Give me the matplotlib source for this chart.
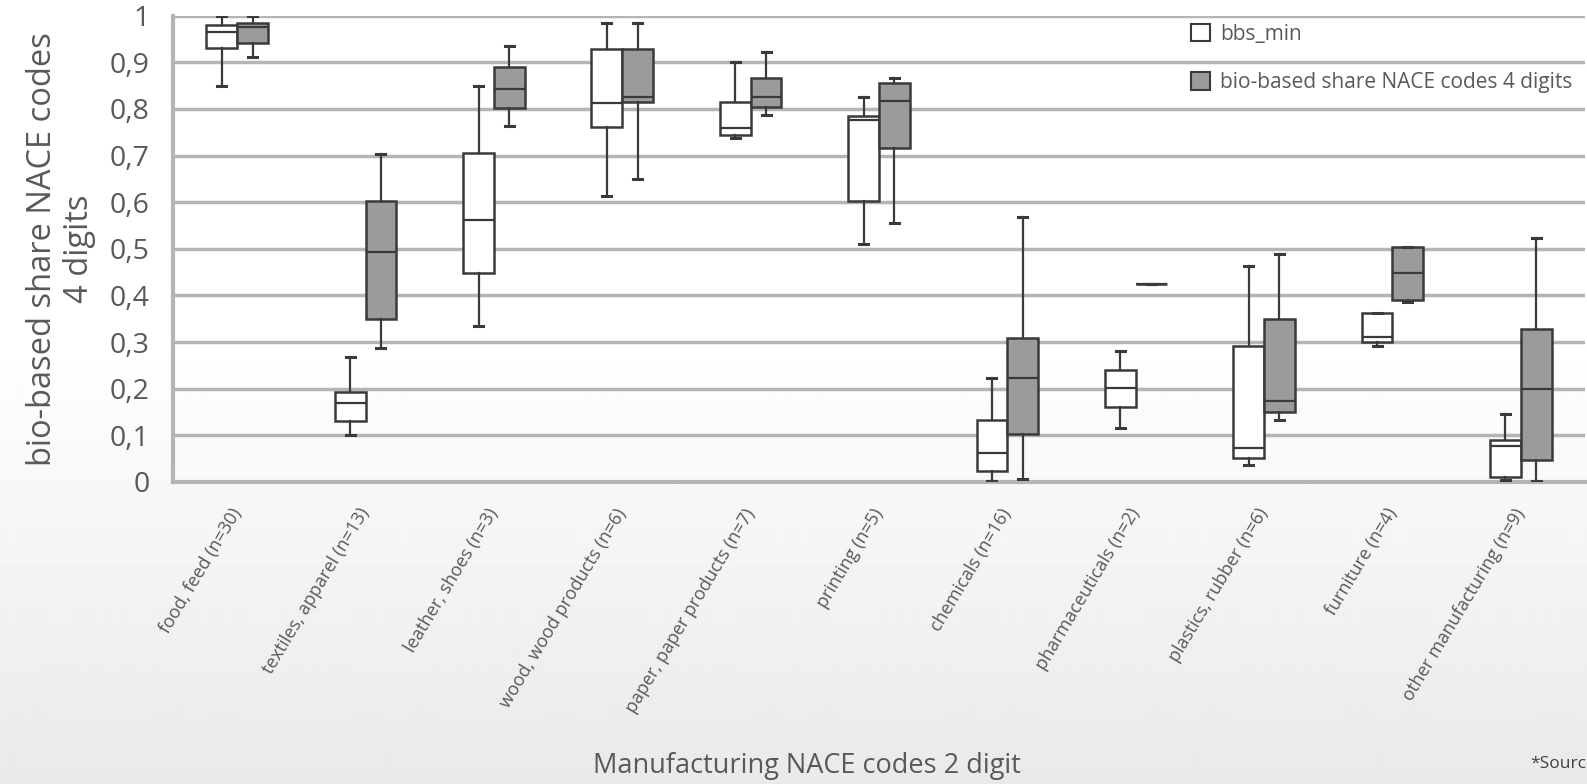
import numpy as np
import matplotlib
matplotlib.use("Agg")
from matplotlib import pyplot as plt
from matplotlib.patches import Patch

plt.rcParams["font.family"] = ["Open Sans", "DejaVu Sans"]

# Categories (NACE 2 digit) and box statistics
categories = [
    "food, feed (n=30)",
    "textiles, apparel (n=13)",
    "leather, shoes (n=3)",
    "wood, wood products (n=6)",
    "paper, paper products (n=7)",
    "printing (n=5)",
    "chemicals (n=16)",
    "pharmaceuticals (n=2)",
    "plastics, rubber (n=6)",
    "furniture (n=4)",
    "other manufacturing (n=9)",
]

# bbs_min: whisker low, q1, median, q3, whisker high
bbs_lo = [0.850, 0.100, 0.335, 0.613, 0.737, 0.510, 0.002, 0.116, 0.036, 0.292, 0.004]
bbs_q1 = [0.930, 0.131, 0.448, 0.762, 0.744, 0.603, 0.024, 0.160, 0.051, 0.300, 0.011]
bbs_med = [0.965, 0.170, 0.562, 0.812, 0.759, 0.776, 0.062, 0.201, 0.072, 0.310, 0.078]
bbs_q3 = [0.980, 0.194, 0.705, 0.929, 0.814, 0.785, 0.134, 0.240, 0.292, 0.362, 0.089]
bbs_hi = [1.000, 0.269, 0.850, 0.985, 0.901, 0.826, 0.224, 0.282, 0.464, 0.362, 0.145]

# bio-based share NACE codes 4 digits
nace_lo = [0.911, 0.287, 0.763, 0.650, 0.786, 0.556, 0.006, 0.425, 0.133, 0.385, 0.002]
nace_q1 = [0.941, 0.349, 0.803, 0.815, 0.805, 0.717, 0.104, 0.425, 0.151, 0.390, 0.047]
nace_med = [0.975, 0.494, 0.843, 0.825, 0.826, 0.816, 0.224, 0.425, 0.174, 0.448, 0.199]
nace_q3 = [0.985, 0.603, 0.889, 0.929, 0.866, 0.855, 0.309, 0.425, 0.350, 0.505, 0.328]
nace_hi = [1.000, 0.703, 0.934, 0.985, 0.922, 0.866, 0.568, 0.425, 0.488, 0.505, 0.523]

y_ticks = [0, 0.1, 0.2, 0.3, 0.4, 0.5, 0.6, 0.7, 0.8, 0.9, 1]
y_tick_labels = ["0", "0,1", "0,2", "0,3", "0,4", "0,5", "0,6", "0,7", "0,8", "0,9", "1"]


def make_stats(lo, q1, med, q3, hi):
    return [
        {"whislo": a, "q1": b, "med": c, "q3": d, "whishi": e, "fliers": []}
        for a, b, c, d, e in zip(lo, q1, med, q3, hi)
    ]


W, H = 1587, 784
fig = plt.figure(figsize=(W / 100, H / 100), dpi=100)

# Background gradient (white at top, light grey at the bottom)
bg = fig.add_axes([0, 0, 1, 1], zorder=-10)
rows = np.arange(H)
shade = np.where(rows < 340, 1.0, 1.0 - 0.085 * (rows - 340) / (H - 340))
bg.imshow(shade[:, None] * np.ones((1, 8)), cmap="gray", vmin=0, vmax=1,
          aspect="auto", extent=[0, 1, 0, 1])
bg.set_axis_off()

left, right = 173, 1585
bottom, top = 482, 15.7
ax = fig.add_axes([left / W, (H - bottom) / H, (right - left) / W, (bottom - top) / H])
ax.set_facecolor("none")

edge = "#3a3a3a"
grey_fill = "#9b9b9b"
x = np.arange(len(categories))
width = 0.24
common = dict(
    widths=width, patch_artist=True, showfliers=False, capwidths=0.07,
    medianprops=dict(color=edge, linewidth=1.6),
    whiskerprops=dict(color=edge, linewidth=1.6),
    capprops=dict(color=edge, linewidth=2.2),
    zorder=3,
)
ax.bxp(make_stats(bbs_lo, bbs_q1, bbs_med, bbs_q3, bbs_hi), positions=x - width / 2,
       boxprops=dict(facecolor="white", edgecolor=edge, linewidth=1.8), **common)
ax.bxp(make_stats(nace_lo, nace_q1, nace_med, nace_q3, nace_hi), positions=x + width / 2,
       boxprops=dict(facecolor=grey_fill, edgecolor=edge, linewidth=1.8), **common)

ax.set_xlim(-0.5, len(categories) - 0.5)
ax.set_ylim(0, 1)
ax.set_yticks(y_ticks)
ax.set_yticklabels(y_tick_labels)
ax.yaxis.grid(True, color="#b5b5b5", linewidth=2.5, zorder=0)
ax.set_axisbelow(True)
for side in ["top", "right"]:
    ax.spines[side].set_visible(False)
for side in ["left", "bottom"]:
    ax.spines[side].set_color("#b5b5b5")
    ax.spines[side].set_linewidth(3)
ax.spines["bottom"].set_zorder(1)

ax.set_xticks(x)
ax.set_xticklabels(categories, rotation=59, ha="right", va="center",
                   rotation_mode="anchor", fontsize=13, color="#595959")
ax.tick_params(axis="x", length=0, pad=20)
ax.tick_params(axis="y", length=0, pad=17, labelsize=20.5, labelcolor="#595959")

ax.set_ylabel("bio-based share NACE codes\n4 digits", fontsize=23.5, color="#595959",
              linespacing=1.15)
ax.yaxis.set_label_coords(-0.0545, 0.5)

fig.text(807 / W, 1 - 766 / H, "Manufacturing NACE codes 2 digit", fontsize=19.5,
         color="#595959", ha="center", va="center")
fig.text(1530 / W, 1 - 764 / H, "*Source:", fontsize=12.5, color="#404040",
         ha="left", va="center")

handles = [Patch(facecolor="white", edgecolor=edge, linewidth=1.5),
           Patch(facecolor=grey_fill, edgecolor=edge, linewidth=1.5)]
fig.legend(handles, ["bbs_min", "bio-based share NACE codes 4 digits"],
           loc="upper left", bbox_to_anchor=(1191 / W, 1 - 24 / H), frameon=False,
           fontsize=15, labelcolor="#595959", handlelength=0.9, handleheight=0.9,
           handletextpad=0.5, labelspacing=1.3, borderpad=0, borderaxespad=0)

fig.savefig("out.png", dpi=100)
